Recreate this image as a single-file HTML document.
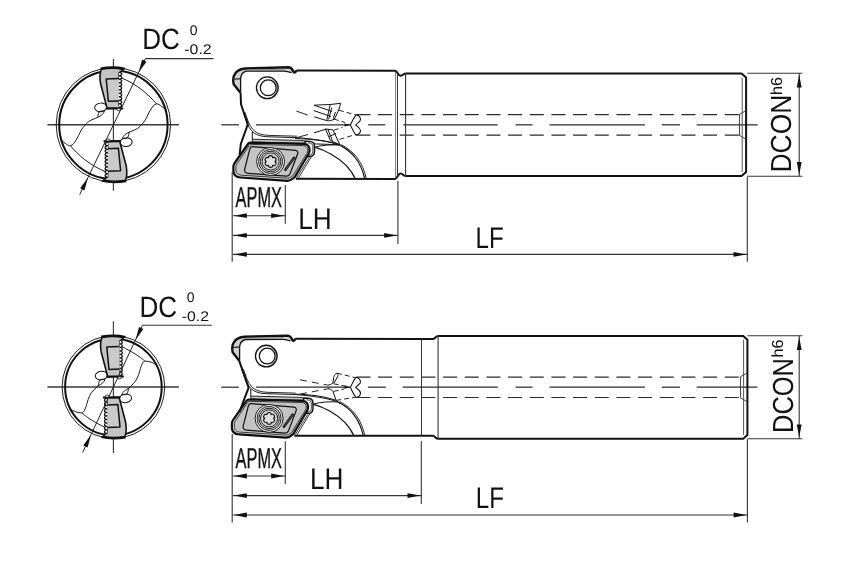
<!DOCTYPE html>
<html><head><meta charset="utf-8"><style>
html,body{margin:0;padding:0;background:#fff;}
svg{display:block;}
text{font-family:"Liberation Sans",sans-serif;text-rendering:geometricPrecision;}
</style></head><body>
<svg width="850" height="567" viewBox="0 0 850 567">
<rect width="850" height="567" fill="#fff"/>
<g>
<line x1="47.40" y1="124.80" x2="178.90" y2="124.80" stroke="#3a3a3a" stroke-width="1.5" />
<line x1="113.40" y1="59.10" x2="113.40" y2="190.80" stroke="#333" stroke-width="1.1" />
<circle cx="113.4" cy="124.8" r="57.2" fill="none" stroke="#222" stroke-width="1.0"/>
<circle cx="113.4" cy="124.8" r="54.2" fill="none" stroke="#111" stroke-width="2.0"/>
<g transform="translate(113.4,124.8) rotate(0)">
<path d="M-53.2,14.3 C-48,19 -45,21.2 -43.1,20.9 C-40.5,20.5 -39,18 -36.7,14.3 C-34,9.5 -32.5,5 -30.4,2.7 C-28,0 -26,-2.5 -24,-3.7 C-21,-5.5 -18,-6.5 -16.1,-7.2" fill="none" stroke="#111" stroke-width="0.95"/>
<path d="M-43.1,20.9 C-35,30 -25,40 -6.2,47.7" fill="none" stroke="#111" stroke-width="0.95"/>
</g>
<g transform="translate(113.4,124.8) rotate(180)">
<path d="M-53.2,14.3 C-48,19 -45,21.2 -43.1,20.9 C-40.5,20.5 -39,18 -36.7,14.3 C-34,9.5 -32.5,5 -30.4,2.7 C-28,0 -26,-2.5 -24,-3.7 C-21,-5.5 -18,-6.5 -16.1,-7.2" fill="none" stroke="#111" stroke-width="0.95"/>
<path d="M-43.1,20.9 C-35,30 -25,40 -6.2,47.7" fill="none" stroke="#111" stroke-width="0.95"/>
</g>
<g transform="translate(113.4,124.8) rotate(0)">
<g transform="translate(0,0)">
<ellipse cx="-12.7" cy="-17.4" rx="6.1" ry="4.3" transform="rotate(-6 -12.7 -17.4)" fill="#fff" stroke="#111" stroke-width="1.0"/>
<path d="M-16.1,-7.2 C-15.2,-8.5 -15.3,-11 -14.3,-12.8 C-13,-14 -10.5,-14 -9,-13.4 C-10,-11 -12.5,-8.5 -16.1,-7.2" fill="none" stroke="#111" stroke-width="0.95"/>
<path d="M-12,-55.6 C-4,-57 3,-57 9.6,-55.2 L7.5,-53 L5.8,-52 L5.8,-19 L7.8,-16.8 L-6.3,-16.4 L-12.8,-41 C-13.8,-47 -13.6,-52 -12,-55.6 Z" fill="#c4c4c4" stroke="#111" stroke-width="1.6" stroke-linejoin="round"/>
<path d="M5.6,-23.9 L-5,-23.5 L-7.2,-45.9 L5.6,-46.4" fill="#cacaca" stroke="#111" stroke-width="1.5" stroke-linejoin="round"/>
<path d="M5.6,-52.5 c3.6,0.3 3.6,3.2 0,3.5 c3.6,0.3 3.6,3.2 0,3.5 c3.6,0.3 3.6,3.2 0,3.5 c3.6,0.3 3.6,3.2 0,3.5 c3.6,0.3 3.6,3.2 0,3.5 c3.6,0.3 3.6,3.2 0,3.5 c3.6,0.3 3.6,3.2 0,3.5 c3.6,0.3 3.6,3.2 0,3.5 c3.6,0.3 3.6,3.2 0,3.5 c3.6,0.3 3.6,3.2 0,3.5" fill="#fff" stroke="#111" stroke-width="1.25"/>
<path d="M-7.6,-16.2 L9.8,-16.4" fill="none" stroke="#111" stroke-width="2.0"/>
<ellipse cx="5.5" cy="-15.2" rx="2.2" ry="1.1" fill="#fff" stroke="#111" stroke-width="0.8"/>
<path d="M-12.8,-56.3 C-4,-57.8 4,-57.8 11.5,-56" fill="none" stroke="#111" stroke-width="2.2"/>
</g>
</g>
<g transform="translate(113.4,124.8) rotate(180)">
<g transform="translate(0,0)">
<ellipse cx="-12.7" cy="-17.4" rx="6.1" ry="4.3" transform="rotate(-6 -12.7 -17.4)" fill="#fff" stroke="#111" stroke-width="1.0"/>
<path d="M-16.1,-7.2 C-15.2,-8.5 -15.3,-11 -14.3,-12.8 C-13,-14 -10.5,-14 -9,-13.4 C-10,-11 -12.5,-8.5 -16.1,-7.2" fill="none" stroke="#111" stroke-width="0.95"/>
<path d="M-12,-55.6 C-4,-57 3,-57 9.6,-55.2 L7.5,-53 L5.8,-52 L5.8,-19 L7.8,-16.8 L-6.3,-16.4 L-12.8,-41 C-13.8,-47 -13.6,-52 -12,-55.6 Z" fill="#c4c4c4" stroke="#111" stroke-width="1.6" stroke-linejoin="round"/>
<path d="M5.6,-23.9 L-5,-23.5 L-7.2,-45.9 L5.6,-46.4" fill="#cacaca" stroke="#111" stroke-width="1.5" stroke-linejoin="round"/>
<path d="M5.6,-52.5 c3.6,0.3 3.6,3.2 0,3.5 c3.6,0.3 3.6,3.2 0,3.5 c3.6,0.3 3.6,3.2 0,3.5 c3.6,0.3 3.6,3.2 0,3.5 c3.6,0.3 3.6,3.2 0,3.5 c3.6,0.3 3.6,3.2 0,3.5 c3.6,0.3 3.6,3.2 0,3.5 c3.6,0.3 3.6,3.2 0,3.5 c3.6,0.3 3.6,3.2 0,3.5 c3.6,0.3 3.6,3.2 0,3.5" fill="#fff" stroke="#111" stroke-width="1.25"/>
<path d="M-7.6,-16.2 L9.8,-16.4" fill="none" stroke="#111" stroke-width="2.0"/>
<ellipse cx="5.5" cy="-15.2" rx="2.2" ry="1.1" fill="#fff" stroke="#111" stroke-width="0.8"/>
<path d="M-12.8,-56.3 C-4,-57.8 4,-57.8 11.5,-56" fill="none" stroke="#111" stroke-width="2.2"/>
</g>
</g>
<line x1="79.71" y1="194.71" x2="145.30" y2="58.60" stroke="#222" stroke-width="1.0" />
<line x1="145.30" y1="58.60" x2="213.50" y2="58.60" stroke="#333" stroke-width="1.1" />
<path d="M87.92,177.68 L84.44,190.43 L80.11,188.35 Z" fill="#111"/>
<path d="M138.66,72.37 L142.15,59.62 L146.47,61.70 Z" fill="#111"/>
</g>
<g>
<line x1="47.40" y1="387.00" x2="178.90" y2="387.00" stroke="#3a3a3a" stroke-width="1.5" />
<line x1="113.40" y1="321.30" x2="113.40" y2="453.00" stroke="#333" stroke-width="1.1" />
<circle cx="113.4" cy="387.0" r="51.3" fill="none" stroke="#222" stroke-width="1.0"/>
<circle cx="113.4" cy="387.0" r="48.3" fill="none" stroke="#111" stroke-width="2.0"/>
<g transform="translate(113.4,387.0) rotate(0)">
<path d="M-44,21.2 C-40,24.5 -36,25.8 -31.4,25.9 C-29.5,25.5 -28,22 -26.5,16.6 C-25,11 -23,6 -19.7,3.1 C-18,1.5 -16.8,0 -15.5,-1" fill="none" stroke="#111" stroke-width="0.95"/>
<path d="M-31.4,25.9 C-26,31 -18.5,35.2 -8.6,40.3" fill="none" stroke="#111" stroke-width="0.95"/>
</g>
<g transform="translate(113.4,387.0) rotate(180)">
<path d="M-44,21.2 C-40,24.5 -36,25.8 -31.4,25.9 C-29.5,25.5 -28,22 -26.5,16.6 C-25,11 -23,6 -19.7,3.1 C-18,1.5 -16.8,0 -15.5,-1" fill="none" stroke="#111" stroke-width="0.95"/>
<path d="M-31.4,25.9 C-26,31 -18.5,35.2 -8.6,40.3" fill="none" stroke="#111" stroke-width="0.95"/>
</g>
<g transform="translate(113.4,387.0) rotate(0)">
<g transform="translate(0.6,6.0)">
<ellipse cx="-12.7" cy="-17.4" rx="6.1" ry="4.3" transform="rotate(-6 -12.7 -17.4)" fill="#fff" stroke="#111" stroke-width="1.0"/>
<path d="M-16.1,-7.2 C-15.2,-8.5 -15.3,-11 -14.3,-12.8 C-13,-14 -10.5,-14 -9,-13.4 C-10,-11 -12.5,-8.5 -16.1,-7.2" fill="none" stroke="#111" stroke-width="0.95"/>
<path d="M-12,-55.6 C-4,-57 3,-57 9.6,-55.2 L7.5,-53 L5.8,-52 L5.8,-19 L7.8,-16.8 L-6.3,-16.4 L-12.8,-41 C-13.8,-47 -13.6,-52 -12,-55.6 Z" fill="#c4c4c4" stroke="#111" stroke-width="1.6" stroke-linejoin="round"/>
<path d="M5.6,-23.9 L-5,-23.5 L-7.2,-45.9 L5.6,-46.4" fill="#cacaca" stroke="#111" stroke-width="1.5" stroke-linejoin="round"/>
<path d="M5.6,-52.5 c3.6,0.3 3.6,3.2 0,3.5 c3.6,0.3 3.6,3.2 0,3.5 c3.6,0.3 3.6,3.2 0,3.5 c3.6,0.3 3.6,3.2 0,3.5 c3.6,0.3 3.6,3.2 0,3.5 c3.6,0.3 3.6,3.2 0,3.5 c3.6,0.3 3.6,3.2 0,3.5 c3.6,0.3 3.6,3.2 0,3.5 c3.6,0.3 3.6,3.2 0,3.5 c3.6,0.3 3.6,3.2 0,3.5" fill="#fff" stroke="#111" stroke-width="1.25"/>
<path d="M-7.6,-16.2 L9.8,-16.4" fill="none" stroke="#111" stroke-width="2.0"/>
<ellipse cx="5.5" cy="-15.2" rx="2.2" ry="1.1" fill="#fff" stroke="#111" stroke-width="0.8"/>
<path d="M-12.8,-56.3 C-4,-57.8 4,-57.8 11.5,-56" fill="none" stroke="#111" stroke-width="2.2"/>
</g>
</g>
<g transform="translate(113.4,387.0) rotate(180)">
<g transform="translate(0.6,6.0)">
<ellipse cx="-12.7" cy="-17.4" rx="6.1" ry="4.3" transform="rotate(-6 -12.7 -17.4)" fill="#fff" stroke="#111" stroke-width="1.0"/>
<path d="M-16.1,-7.2 C-15.2,-8.5 -15.3,-11 -14.3,-12.8 C-13,-14 -10.5,-14 -9,-13.4 C-10,-11 -12.5,-8.5 -16.1,-7.2" fill="none" stroke="#111" stroke-width="0.95"/>
<path d="M-12,-55.6 C-4,-57 3,-57 9.6,-55.2 L7.5,-53 L5.8,-52 L5.8,-19 L7.8,-16.8 L-6.3,-16.4 L-12.8,-41 C-13.8,-47 -13.6,-52 -12,-55.6 Z" fill="#c4c4c4" stroke="#111" stroke-width="1.6" stroke-linejoin="round"/>
<path d="M5.6,-23.9 L-5,-23.5 L-7.2,-45.9 L5.6,-46.4" fill="#cacaca" stroke="#111" stroke-width="1.5" stroke-linejoin="round"/>
<path d="M5.6,-52.5 c3.6,0.3 3.6,3.2 0,3.5 c3.6,0.3 3.6,3.2 0,3.5 c3.6,0.3 3.6,3.2 0,3.5 c3.6,0.3 3.6,3.2 0,3.5 c3.6,0.3 3.6,3.2 0,3.5 c3.6,0.3 3.6,3.2 0,3.5 c3.6,0.3 3.6,3.2 0,3.5 c3.6,0.3 3.6,3.2 0,3.5 c3.6,0.3 3.6,3.2 0,3.5 c3.6,0.3 3.6,3.2 0,3.5" fill="#fff" stroke="#111" stroke-width="1.25"/>
<path d="M-7.6,-16.2 L9.8,-16.4" fill="none" stroke="#111" stroke-width="2.0"/>
<ellipse cx="5.5" cy="-15.2" rx="2.2" ry="1.1" fill="#fff" stroke="#111" stroke-width="0.8"/>
<path d="M-12.8,-56.3 C-4,-57.8 4,-57.8 11.5,-56" fill="none" stroke="#111" stroke-width="2.2"/>
</g>
</g>
<line x1="82.65" y1="452.43" x2="142.40" y2="325.30" stroke="#222" stroke-width="1.0" />
<line x1="142.40" y1="325.30" x2="211.80" y2="325.30" stroke="#333" stroke-width="1.1" />
<path d="M90.94,434.78 L87.58,447.57 L83.24,445.53 Z" fill="#111"/>
<path d="M135.65,339.67 L139.00,326.88 L143.35,328.92 Z" fill="#111"/>
</g>
<g font-family="Liberation Sans, sans-serif" fill="#111" opacity="0.995">
<text x="142.3" y="49.2" font-size="29.3" textLength="37.6" lengthAdjust="spacingAndGlyphs" >DC</text>
<text x="189.8" y="34.7" font-size="14.0" >0</text>
<text x="184.3" y="53.5" font-size="14.0" textLength="27.3" lengthAdjust="spacingAndGlyphs" >-0.2</text>
<text x="139.4" y="317.4" font-size="29.3" textLength="37.6" lengthAdjust="spacingAndGlyphs" >DC</text>
<text x="186.8" y="302.4" font-size="14.0" >0</text>
<text x="181.7" y="321.4" font-size="14.0" textLength="27.3" lengthAdjust="spacingAndGlyphs" >-0.2</text>
<text x="298.2" y="228.9" font-size="29.8" textLength="33.5" lengthAdjust="spacingAndGlyphs" >LH</text>
<text x="309.9" y="488.9" font-size="29.8" textLength="33.5" lengthAdjust="spacingAndGlyphs" >LH</text>
<text x="475.5" y="247.8" font-size="29.8" textLength="28.2" lengthAdjust="spacingAndGlyphs" >LF</text>
<text x="475.8" y="507.8" font-size="29.8" textLength="28.2" lengthAdjust="spacingAndGlyphs" >LF</text>
<text x="235.6" y="207.4" font-size="28.8" textLength="46.3" lengthAdjust="spacingAndGlyphs" stroke="#111" stroke-width="0.35">APMX</text>
<text x="235.6" y="467.9" font-size="28.8" textLength="46.3" lengthAdjust="spacingAndGlyphs" stroke="#111" stroke-width="0.35">APMX</text>
<text transform="translate(791.0,172.6) rotate(-90)" font-size="29" textLength="78" lengthAdjust="spacingAndGlyphs">DCON</text>
<text transform="translate(781.7,95) rotate(-90)" font-size="16" textLength="18" lengthAdjust="spacingAndGlyphs">h6</text>
<text transform="translate(792.9,433) rotate(-90)" font-size="29" textLength="75" lengthAdjust="spacingAndGlyphs">DCON</text>
<text transform="translate(783.3,357.5) rotate(-90)" font-size="16" textLength="18" lengthAdjust="spacingAndGlyphs">h6</text>
<line x1="232.20" y1="172.00" x2="232.20" y2="261.70" stroke="#333" stroke-width="1.1" />
<line x1="285.30" y1="185.00" x2="285.30" y2="223.70" stroke="#333" stroke-width="1.1" />
<line x1="397.90" y1="181.00" x2="397.90" y2="244.10" stroke="#333" stroke-width="1.1" />
<line x1="747.30" y1="176.80" x2="747.30" y2="261.70" stroke="#333" stroke-width="1.1" />
<line x1="233.00" y1="215.70" x2="285.00" y2="215.70" stroke="#333" stroke-width="1.1" />
<path d="M233.80,215.70 L246.80,213.30 L246.80,218.10 Z" fill="#111"/>
<path d="M284.20,215.70 L271.20,218.10 L271.20,213.30 Z" fill="#111"/>
<line x1="233.00" y1="235.40" x2="397.90" y2="235.40" stroke="#333" stroke-width="1.1" />
<path d="M233.80,235.40 L246.80,233.00 L246.80,237.80 Z" fill="#111"/>
<path d="M397.10,235.40 L384.10,237.80 L384.10,233.00 Z" fill="#111"/>
<line x1="233.00" y1="254.40" x2="747.30" y2="254.40" stroke="#333" stroke-width="1.1" />
<path d="M233.80,254.40 L246.80,252.00 L246.80,256.80 Z" fill="#111"/>
<path d="M746.50,254.40 L733.50,256.80 L733.50,252.00 Z" fill="#111"/>
<line x1="747.30" y1="73.30" x2="802.40" y2="73.30" stroke="#333" stroke-width="1.1" />
<line x1="747.30" y1="176.30" x2="802.40" y2="176.30" stroke="#333" stroke-width="1.1" />
<line x1="799.20" y1="73.30" x2="799.20" y2="176.30" stroke="#333" stroke-width="1.1" />
<path d="M799.20,74.50 L801.60,87.50 L796.80,87.50 Z" fill="#111"/>
<path d="M799.20,175.10 L796.80,162.10 L801.60,162.10 Z" fill="#111"/>
<line x1="232.20" y1="434.00" x2="232.20" y2="522.60" stroke="#333" stroke-width="1.1" />
<line x1="285.30" y1="441.30" x2="285.30" y2="484.10" stroke="#333" stroke-width="1.1" />
<line x1="421.30" y1="441.00" x2="421.30" y2="504.00" stroke="#333" stroke-width="1.1" />
<line x1="747.40" y1="439.30" x2="747.40" y2="522.60" stroke="#333" stroke-width="1.1" />
<line x1="233.00" y1="476.00" x2="285.00" y2="476.00" stroke="#333" stroke-width="1.1" />
<path d="M233.80,476.00 L246.80,473.60 L246.80,478.40 Z" fill="#111"/>
<path d="M284.20,476.00 L271.20,478.40 L271.20,473.60 Z" fill="#111"/>
<line x1="233.00" y1="495.60" x2="421.30" y2="495.60" stroke="#333" stroke-width="1.1" />
<path d="M233.80,495.60 L246.80,493.20 L246.80,498.00 Z" fill="#111"/>
<path d="M420.50,495.60 L407.50,498.00 L407.50,493.20 Z" fill="#111"/>
<line x1="233.00" y1="515.00" x2="747.40" y2="515.00" stroke="#333" stroke-width="1.1" />
<path d="M233.80,515.00 L246.80,512.60 L246.80,517.40 Z" fill="#111"/>
<path d="M746.60,515.00 L733.60,517.40 L733.60,512.60 Z" fill="#111"/>
<line x1="747.40" y1="335.80" x2="802.40" y2="335.80" stroke="#333" stroke-width="1.1" />
<line x1="747.40" y1="438.80" x2="802.40" y2="438.80" stroke="#333" stroke-width="1.1" />
<line x1="799.20" y1="335.80" x2="799.20" y2="438.80" stroke="#333" stroke-width="1.1" />
<path d="M799.20,337.00 L801.60,350.00 L796.80,350.00 Z" fill="#111"/>
<path d="M799.20,437.60 L796.80,424.60 L801.60,424.60 Z" fill="#111"/>
<line x1="221.3" y1="124.8" x2="239" y2="124.8" stroke="#2a2a2a" stroke-width="1.25"/>
<line x1="255.9" y1="124.8" x2="350" y2="124.8" stroke="#2a2a2a" stroke-width="1.25"/>
<line x1="368.2" y1="124.8" x2="385.3" y2="124.8" stroke="#2a2a2a" stroke-width="1.25"/>
<line x1="403.3" y1="124.8" x2="497.6" y2="124.8" stroke="#2a2a2a" stroke-width="1.25"/>
<line x1="515.6" y1="124.8" x2="532.5" y2="124.8" stroke="#2a2a2a" stroke-width="1.25"/>
<line x1="549.5" y1="124.8" x2="644.9" y2="124.8" stroke="#2a2a2a" stroke-width="1.25"/>
<line x1="661.8" y1="124.8" x2="679.9" y2="124.8" stroke="#2a2a2a" stroke-width="1.25"/>
<line x1="696.7" y1="124.8" x2="757.6" y2="124.8" stroke="#2a2a2a" stroke-width="1.25"/>
<line x1="356.4" y1="114.6" x2="739" y2="114.6" stroke="#2a2a2a" stroke-width="1.2" stroke-dasharray="14 7.67"/>
<line x1="356.4" y1="135.1" x2="739" y2="135.1" stroke="#2a2a2a" stroke-width="1.2" stroke-dasharray="14 7.67"/>
<path d="M405.6,73.5 L741.5,73.5 L746.1,77.6 L746.1,172 L741.5,176.1 L405.6,176.1" fill="none" stroke="#111" stroke-width="2.0" stroke-linejoin="round"/>
<line x1="742.20" y1="77.60" x2="742.20" y2="172.00" stroke="#555" stroke-width="1.0" />
<path d="M739,114.6 L746,110.5 M739,135.1 L746,139.2 M739.5,114.6 L739.5,135.1" fill="none" stroke="#333" stroke-width="0.9"/>
<path d="M296.8,70.4 L395,70.7 C397.6,70.7 397.8,75.8 400.6,75.8 C403,75.8 403.6,73.5 405.6,73.5" fill="none" stroke="#111" stroke-width="2.0"/>
<path d="M295.8,178.8 L395,178.9 C397.6,178.9 397.8,173.6 400.6,173.6 C403,173.6 403.6,176.1 405.6,176.1" fill="none" stroke="#111" stroke-width="2.0"/>
<line x1="395.60" y1="72.00" x2="395.60" y2="177.50" stroke="#666" stroke-width="0.9" />
<line x1="397.50" y1="73.50" x2="397.50" y2="176.00" stroke="#333" stroke-width="1.0" />
<line x1="405.60" y1="73.50" x2="405.60" y2="176.10" stroke="#333" stroke-width="1.1" />
<g transform="translate(0,0)">
<path d="M240.2,92.5 L233.6,84 C232.8,80 233.2,76.5 235,73.8 C237,70.6 240.5,68.8 245.6,68.5 L288.8,67.3 C291.2,67.6 292.6,69.8 293.5,71.8 L291.6,72.7 C288,71.5 286,71 284.1,71.1 L246.3,71.2 C243,72 240.8,75 240.6,79 L240.6,92.5 Z" fill="#d2d2d2" stroke="none"/>
<path d="M240.2,92.5 L233.6,84 C232.8,80 233.2,76.5 235,73.8 C237,70.6 240.5,68.8 245.6,68.5 L288.8,67.3 C291.2,67.6 292.6,69.8 293.5,71.8 C293.9,72.6 294.6,72.8 295.2,72.2 L296.8,70.3" fill="none" stroke="#111" stroke-width="2.4" stroke-linejoin="round"/>
<path d="M240.6,92.5 L240.6,79 C240.8,75 243,72 246.3,71.2 L284.1,71.1 C286,71 288,71.5 291.6,72.7" fill="none" stroke="#111" stroke-width="1.3"/>
<path d="M247,69.9 L284,69.3" fill="none" stroke="#888" stroke-width="0.8"/>
<path d="M234.2,79.2 L240.4,78.6" fill="none" stroke="#111" stroke-width="1.1"/>
<circle cx="267.3" cy="87.8" r="10.85" fill="none" stroke="#111" stroke-width="1.3"/>
<circle cx="268.2" cy="87.8" r="7.9" fill="none" stroke="#111" stroke-width="1.25"/>
<path d="M272.6,79.3 A10,10 0 0 1 272.6,96.3" fill="none" stroke="#333" stroke-width="0.8"/>
</g>
<g transform="translate(0,0)">
<path d="M243.3,112.4 L246.5,121.6 C248.1,126 250.2,129.8 253.5,132.5 C257,135.2 261,136.4 268,136.8 L296.5,137.6" fill="none" stroke="#111" stroke-width="1.0"/>
<path d="M244.8,112 L248,121 C249.6,125 251.6,128.6 254.8,131.2 C258,133.8 262,135 268.5,135.4 L297,136.2" fill="none" stroke="#111" stroke-width="0.9"/>
<path d="M252.3,132 L252.3,139.2" fill="none" stroke="#111" stroke-width="1.0"/>
<path d="M252.3,139.2 L300,140.4 L309.5,141.5 L309.5,143.5 L252.3,142 Z" fill="#c8c8c8" stroke="#111" stroke-width="0.9"/>
<path d="M314.4,147.2 C325,150 338,157 346.1,165.3 C350,169.5 353.2,174 355.1,178.5" fill="none" stroke="#111" stroke-width="1.2"/>
<path d="M339.8,145.1 C346,148.5 352,153 355.5,158 C360,164 363,171 364.7,178.5" fill="none" stroke="#111" stroke-width="1.2"/>
<path d="M341.2,144.6 C347.5,148 353.5,152.5 357,157.5 C361.5,163.5 364.6,170.5 366.3,178.5" fill="none" stroke="#111" stroke-width="0.9"/>
<path d="M296.5,137.6 C315,139 330,141.5 339.8,145.1 M314.9,147.2 C322,145 332,144.5 339.8,145.1" fill="none" stroke="#111" stroke-width="1.0"/>
<path d="M305,141.4 L309.6,141.4 C312.7,141.5 314.5,143.6 314.5,146.5 L314.5,151.6 C314.5,154.3 312.8,156.4 310,156.5 L306,156.5 Z" fill="#e2e2e2" stroke="#111" stroke-width="1.4" stroke-linejoin="round"/>
<path d="M308,143 L309.4,143 C311.5,143.2 312.8,144.6 312.8,146.6 L312.8,151.6 C312.7,153.7 311.4,154.8 309.4,154.9 L307.5,154.9" fill="#fafafa" stroke="#222" stroke-width="0.8"/>
<path d="M311.6,156.4 L298.2,178.4 M309.4,157.4 L296.6,177.8" fill="none" stroke="#222" stroke-width="0.9"/>
<path d="M250.5,142.6 L304,143.9 C307.5,144.1 309.6,146.6 309.6,149.8 C309.6,151.5 309.2,152.7 308.5,154 L294.8,177 C292,179.5 290.5,180.8 287.5,180.8 L240.6,177.5 C236.3,177.2 233.5,174.8 233.4,171 L233.4,166.5 C233.4,165 234,163.8 235,162.5 L248,144 C248.6,143 249.4,142.6 250.5,142.6 Z" fill="#dedede" stroke="#0d0d0d" stroke-width="2.2" stroke-linejoin="round"/>
<path d="M251.3,144.4 L303.4,145.6 C306.2,145.8 307.8,147.8 307.8,150.1 C307.8,151.3 307.5,152.3 306.9,153.3 L293,175.7 C290.5,177.3 289.5,178.2 287.4,178.2 L241.2,175.2 C238.2,175 236,173.3 235.9,170.5 L235.9,166.5 C235.9,165.5 236.3,164.7 237,163.8 L249.3,145.3 Z" fill="#c4c4c4" stroke="#222" stroke-width="0.9"/>
<path d="M252.7,146.7 L295.5,150.3 C297.5,150.5 298.3,152.3 297.6,154 L290,173.8 C289.3,175.5 288.3,176.3 286.5,176.2 L248,173.3 C245.5,173.1 244.3,171.5 244.6,169.5 L249.8,149.2 C250.2,147.6 251.2,146.6 252.7,146.7 Z" fill="#c4c4c4" stroke="#111" stroke-width="1.2"/>
<circle cx="270.6" cy="161.5" r="14.0" fill="#f2f2f2" stroke="#111" stroke-width="0.95"/>
<circle cx="270.6" cy="161.5" r="12.0" fill="#d8d8d8" stroke="#111" stroke-width="0.95"/>
<circle cx="270.6" cy="161.5" r="10.2" fill="#f0f0f0" stroke="#111" stroke-width="0.95"/>
<circle cx="270.6" cy="161.5" r="8.6" fill="#d0d0d0" stroke="#111" stroke-width="0.95"/>
<path d="M268.40,157.69 C268.56,154.91 272.64,154.91 272.80,157.69 C275.29,156.44 277.33,159.97 275.00,161.50 C277.33,163.03 275.29,166.56 272.80,165.31 C272.64,168.09 268.56,168.09 268.40,165.31 C265.91,166.56 263.87,163.03 266.20,161.50 C263.87,159.97 265.91,156.44 268.40,157.69 Z" fill="#e0e0e0" stroke="#111" stroke-width="1.1" stroke-linejoin="round"/>
<path d="M294.1,157.8 L285.4,169.8" stroke="#111" stroke-width="2.6" stroke-linecap="round"/>
<path d="M293.8,158.4 L285.8,169.3" stroke="#777" stroke-width="0.7" stroke-linecap="round"/>
</g>
<g transform="translate(0,0)" fill="none" stroke="#222" stroke-width="1.0">
<path d="M356,114.8 C353.5,118 352,121.5 350.4,124.9 C352,128.5 353.5,132 356,135.1 M356,114.8 C358.5,115.5 360.5,117.5 360.5,119.5 C360.5,121.5 358,122.5 355.7,124.9 C358,127 360.5,128.3 360.5,130.5 C360.5,132.5 358.5,134.5 356,135.1" stroke="#111" stroke-width="1.1"/>
<path d="M344.5,123.4 L350.6,124.9 L344.5,126.4 Z" fill="#111" stroke="none"/>
<path d="M314.2,105.2 L330.2,104.5 L340.6,103.3 L338.8,109.8 L334.5,119 C331.5,120.8 329,121 326.7,120.6 L330.2,104.5 M331.8,107.6 L328.6,119.4 M314.2,105.2 L332,111.5 M313.8,110.6 L331,116.5 M314.2,116.8 L326.7,120.6 M335.4,112 L333.2,118.8" stroke="#111" stroke-width="1.0" stroke-linejoin="round"/>
<path d="M325.5,129 L332.9,129.9 L339.9,144.7 M325.5,129 L330.4,140.6 L339.9,144.7 M327.9,129.4 L332.4,140.8 M314,132.8 L326.3,129.1 M314,143.9 L339.9,144.7 M295,138.5 C312,139 328,141 339.9,144.7 M329,136.5 L336,133.5" stroke="#111" stroke-width="1.0" stroke-linejoin="round"/>
<path d="M338.9,110.2 L356,115 M333.9,119 L345,122.5 M333.7,130.3 L342.5,127.3 M339.5,139.4 L356.5,134.2" stroke-dasharray="5 3"/>
<path d="M296.4,111.1 L308.4,115.3 M296.6,137.7 L309,134.2" stroke-dasharray="12 5"/>
</g>
<path d="M240.6,92.5 L241,104.2 L247.8,124.4 L240.8,144 L239.6,155" fill="none" stroke="#111" stroke-width="2.0" stroke-linejoin="round"/>
<line x1="221.2" y1="387.2" x2="238.8" y2="387.2" stroke="#2a2a2a" stroke-width="1.25"/>
<line x1="256.1" y1="387.2" x2="350.4" y2="387.2" stroke="#2a2a2a" stroke-width="1.25"/>
<line x1="367.9" y1="387.2" x2="385.8" y2="387.2" stroke="#2a2a2a" stroke-width="1.25"/>
<line x1="402.7" y1="387.2" x2="497.8" y2="387.2" stroke="#2a2a2a" stroke-width="1.25"/>
<line x1="515.6" y1="387.2" x2="532.5" y2="387.2" stroke="#2a2a2a" stroke-width="1.25"/>
<line x1="549.5" y1="387.2" x2="644.9" y2="387.2" stroke="#2a2a2a" stroke-width="1.25"/>
<line x1="661.8" y1="387.2" x2="679.9" y2="387.2" stroke="#2a2a2a" stroke-width="1.25"/>
<line x1="696.7" y1="387.2" x2="757.4" y2="387.2" stroke="#2a2a2a" stroke-width="1.25"/>
<line x1="356.4" y1="377.1" x2="740" y2="377.1" stroke="#2a2a2a" stroke-width="1.2" stroke-dasharray="14 7.67"/>
<line x1="356.4" y1="397.5" x2="740" y2="397.5" stroke="#2a2a2a" stroke-width="1.2" stroke-dasharray="14 7.67"/>
<path d="M438.1,335.9 L743.2,335.9 L747.4,339.7 L747.4,435 L743.2,438.8 L438.1,438.8" fill="none" stroke="#111" stroke-width="2.0" stroke-linejoin="round"/>
<line x1="743.60" y1="339.70" x2="743.60" y2="435.00" stroke="#555" stroke-width="1.0" />
<path d="M740,377 L747,373 M740,397.6 L747,401.6 M740.5,377 L740.5,397.6" fill="none" stroke="#333" stroke-width="0.9"/>
<path d="M295.8,338.7 L421.5,338.9 L432.6,339.1 C435,339 436,335.9 438.1,335.9" fill="none" stroke="#111" stroke-width="2.0"/>
<path d="M294.3,435.7 L421.5,435.8 L432.6,435.8 C435,435.9 436,438.8 438.1,438.8" fill="none" stroke="#111" stroke-width="2.0"/>
<line x1="421.50" y1="339.00" x2="421.50" y2="435.60" stroke="#333" stroke-width="1.0" />
<line x1="438.10" y1="335.90" x2="438.10" y2="438.80" stroke="#333" stroke-width="1.1" />
<g transform="translate(-1,268.3)">
<path d="M240.2,92.5 L233.6,84 C232.8,80 233.2,76.5 235,73.8 C237,70.6 240.5,68.8 245.6,68.5 L288.8,67.3 C291.2,67.6 292.6,69.8 293.5,71.8 L291.6,72.7 C288,71.5 286,71 284.1,71.1 L246.3,71.2 C243,72 240.8,75 240.6,79 L240.6,92.5 Z" fill="#d2d2d2" stroke="none"/>
<path d="M240.2,92.5 L233.6,84 C232.8,80 233.2,76.5 235,73.8 C237,70.6 240.5,68.8 245.6,68.5 L288.8,67.3 C291.2,67.6 292.6,69.8 293.5,71.8 C293.9,72.6 294.6,72.8 295.2,72.2 L296.8,70.3" fill="none" stroke="#111" stroke-width="2.4" stroke-linejoin="round"/>
<path d="M240.6,92.5 L240.6,79 C240.8,75 243,72 246.3,71.2 L284.1,71.1 C286,71 288,71.5 291.6,72.7" fill="none" stroke="#111" stroke-width="1.3"/>
<path d="M247,69.9 L284,69.3" fill="none" stroke="#888" stroke-width="0.8"/>
<path d="M234.2,79.2 L240.4,78.6" fill="none" stroke="#111" stroke-width="1.1"/>
<circle cx="267.3" cy="87.8" r="10.85" fill="none" stroke="#111" stroke-width="1.3"/>
<circle cx="268.2" cy="87.8" r="7.9" fill="none" stroke="#111" stroke-width="1.25"/>
<path d="M272.6,79.3 A10,10 0 0 1 272.6,96.3" fill="none" stroke="#333" stroke-width="0.8"/>
</g>
<g transform="translate(-1.5,256.9)">
<path d="M243.3,112.4 L246.5,121.6 C248.1,126 250.2,129.8 253.5,132.5 C257,135.2 261,136.4 268,136.8 L296.5,137.6" fill="none" stroke="#111" stroke-width="1.0"/>
<path d="M244.8,112 L248,121 C249.6,125 251.6,128.6 254.8,131.2 C258,133.8 262,135 268.5,135.4 L297,136.2" fill="none" stroke="#111" stroke-width="0.9"/>
<path d="M252.3,132 L252.3,139.2" fill="none" stroke="#111" stroke-width="1.0"/>
<path d="M252.3,139.2 L300,140.4 L309.5,141.5 L309.5,143.5 L252.3,142 Z" fill="#c8c8c8" stroke="#111" stroke-width="0.9"/>
<path d="M314.4,147.2 C325,150 338,157 346.1,165.3 C350,169.5 353.2,174 355.1,178.5" fill="none" stroke="#111" stroke-width="1.2"/>
<path d="M339.8,145.1 C346,148.5 352,153 355.5,158 C360,164 363,171 364.7,178.5" fill="none" stroke="#111" stroke-width="1.2"/>
<path d="M341.2,144.6 C347.5,148 353.5,152.5 357,157.5 C361.5,163.5 364.6,170.5 366.3,178.5" fill="none" stroke="#111" stroke-width="0.9"/>
<path d="M296.5,137.6 C315,139 330,141.5 339.8,145.1 M314.9,147.2 C322,145 332,144.5 339.8,145.1" fill="none" stroke="#111" stroke-width="1.0"/>
<path d="M305,141.4 L309.6,141.4 C312.7,141.5 314.5,143.6 314.5,146.5 L314.5,151.6 C314.5,154.3 312.8,156.4 310,156.5 L306,156.5 Z" fill="#e2e2e2" stroke="#111" stroke-width="1.4" stroke-linejoin="round"/>
<path d="M308,143 L309.4,143 C311.5,143.2 312.8,144.6 312.8,146.6 L312.8,151.6 C312.7,153.7 311.4,154.8 309.4,154.9 L307.5,154.9" fill="#fafafa" stroke="#222" stroke-width="0.8"/>
<path d="M311.6,156.4 L298.2,178.4 M309.4,157.4 L296.6,177.8" fill="none" stroke="#222" stroke-width="0.9"/>
<path d="M250.5,142.6 L304,143.9 C307.5,144.1 309.6,146.6 309.6,149.8 C309.6,151.5 309.2,152.7 308.5,154 L294.8,177 C292,179.5 290.5,180.8 287.5,180.8 L240.6,177.5 C236.3,177.2 233.5,174.8 233.4,171 L233.4,166.5 C233.4,165 234,163.8 235,162.5 L248,144 C248.6,143 249.4,142.6 250.5,142.6 Z" fill="#dedede" stroke="#0d0d0d" stroke-width="2.2" stroke-linejoin="round"/>
<path d="M251.3,144.4 L303.4,145.6 C306.2,145.8 307.8,147.8 307.8,150.1 C307.8,151.3 307.5,152.3 306.9,153.3 L293,175.7 C290.5,177.3 289.5,178.2 287.4,178.2 L241.2,175.2 C238.2,175 236,173.3 235.9,170.5 L235.9,166.5 C235.9,165.5 236.3,164.7 237,163.8 L249.3,145.3 Z" fill="#c4c4c4" stroke="#222" stroke-width="0.9"/>
<path d="M252.7,146.7 L295.5,150.3 C297.5,150.5 298.3,152.3 297.6,154 L290,173.8 C289.3,175.5 288.3,176.3 286.5,176.2 L248,173.3 C245.5,173.1 244.3,171.5 244.6,169.5 L249.8,149.2 C250.2,147.6 251.2,146.6 252.7,146.7 Z" fill="#c4c4c4" stroke="#111" stroke-width="1.2"/>
<circle cx="270.6" cy="161.5" r="14.0" fill="#f2f2f2" stroke="#111" stroke-width="0.95"/>
<circle cx="270.6" cy="161.5" r="12.0" fill="#d8d8d8" stroke="#111" stroke-width="0.95"/>
<circle cx="270.6" cy="161.5" r="10.2" fill="#f0f0f0" stroke="#111" stroke-width="0.95"/>
<circle cx="270.6" cy="161.5" r="8.6" fill="#d0d0d0" stroke="#111" stroke-width="0.95"/>
<path d="M268.40,157.69 C268.56,154.91 272.64,154.91 272.80,157.69 C275.29,156.44 277.33,159.97 275.00,161.50 C277.33,163.03 275.29,166.56 272.80,165.31 C272.64,168.09 268.56,168.09 268.40,165.31 C265.91,166.56 263.87,163.03 266.20,161.50 C263.87,159.97 265.91,156.44 268.40,157.69 Z" fill="#e0e0e0" stroke="#111" stroke-width="1.1" stroke-linejoin="round"/>
<path d="M294.1,157.8 L285.4,169.8" stroke="#111" stroke-width="2.6" stroke-linecap="round"/>
<path d="M293.8,158.4 L285.8,169.3" stroke="#777" stroke-width="0.7" stroke-linecap="round"/>
</g>
<g transform="translate(0,262.4)" fill="none" stroke="#222" stroke-width="1.0">
<path d="M356,114.8 C353.5,118 352,121.5 350.4,124.9 C352,128.5 353.5,132 356,135.1 M356,114.8 C358.5,115.5 360.5,117.5 360.5,119.5 C360.5,121.5 358,122.5 355.7,124.9 C358,127 360.5,128.3 360.5,130.5 C360.5,132.5 358.5,134.5 356,135.1" stroke="#111" stroke-width="1.1"/>
<path d="M344.5,123.4 L350.6,124.9 L344.5,126.4 Z" fill="#111" stroke="none"/>
<path d="M337,110.8 C335.5,111 334,113 333.7,115 L332.9,120.7 C331.5,121.8 330,122.5 328,122.8 M337,110.8 C338.3,111.5 338.2,113 337.5,114.5 L333.7,121 M328,126.2 C330,126.5 331.5,127 332.9,129 L336.2,138 M295,131.8 C310,132 325,134 336.2,138 M336.2,138 L340,141.5" stroke="#111" stroke-width="1.0" stroke-linejoin="round"/>
<path d="M337,110.8 L356,115.4 M333.7,121.4 L349.4,124.4 M333.7,129 L344.4,126.5 M336.2,138 L356,134.7" stroke-dasharray="5 3"/>
<path d="M300,117.4 L328,122.8 M300,131.7 L329,126.2" stroke-dasharray="7 5"/>
</g>
<path d="M239.2,360.8 L248.6,387.6 L239.6,411.7" fill="none" stroke="#111" stroke-width="2.0" stroke-linejoin="round"/>
</svg>
</body></html>
